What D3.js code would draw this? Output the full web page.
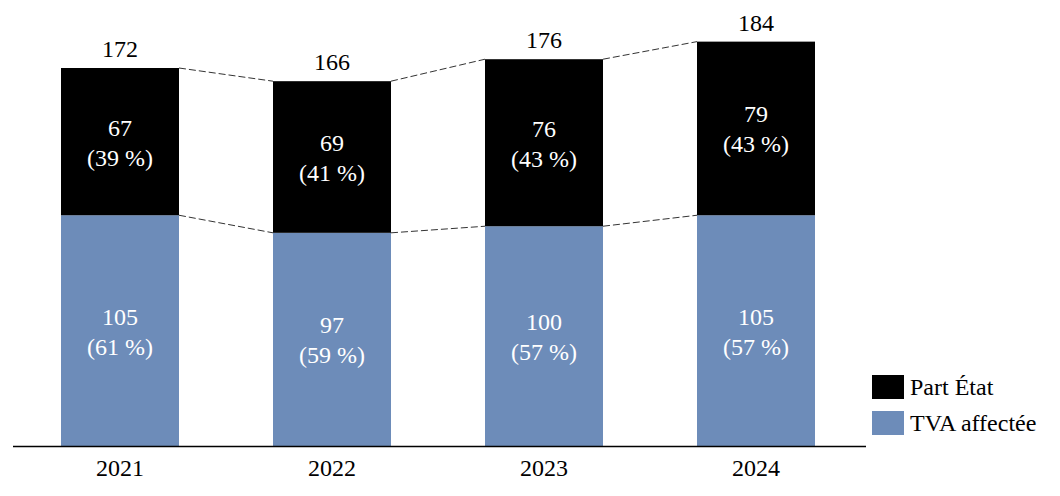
<!DOCTYPE html>
<html><head><meta charset="utf-8">
<script src="https://cdn.jsdelivr.net/npm/d3@7"></script>
<style>body{margin:0;background:#fff}svg{display:block}</style>
</head><body><svg id="c" width="1060" height="496"></svg>
<script>
const years = ["2021","2022","2023","2024"];
const tva = [105, 97, 100, 105];
const etat = [67, 69, 76, 79];
const totals = [172, 166, 176, 184];
const tvaPct = ["61 %","59 %","57 %","57 %"];
const etatPct = ["39 %","41 %","43 %","43 %"];
const seriesNames = ["Part État","TVA affectée"];
const colors = {etat:"#000000", tva:"#6d8cb9"};
const FONT = '"Liberation Serif"';

const svg = d3.select("#c");
const x = d3.scaleBand().domain(years).range([14, 862]).paddingInner(94/212).paddingOuter(47/212);
const y = d3.scaleLinear().domain([0, 172]).range([446, 68]);
const fs = 24;

function txt(sel, x0, y0, s, fill, anchor) {
  return sel.append("text").attr("x", x0).attr("y", y0).attr("text-anchor", anchor || "middle")
    .attr("font-size", fs).style("font-family", FONT).attr("fill", fill).text(s);
}

const g = svg.append("g");
for (let i = 0; i < years.length - 1; i++) {
  const x1 = x(years[i]) + x.bandwidth(), x2 = x(years[i+1]);
  [totals, tva].forEach(arr => {
    g.append("line").attr("x1", x1).attr("x2", x2).attr("y1", y(arr[i])).attr("y2", y(arr[i+1]))
      .attr("stroke", "#333").attr("stroke-width", 1).attr("stroke-dasharray", "7,3");
  });
}
years.forEach((yr, i) => {
  const bx = x(yr), bw = x.bandwidth(), cx = bx + bw/2;
  g.append("rect").attr("x", bx).attr("width", bw).attr("y", y(tva[i])).attr("height", y(0) - y(tva[i])).attr("fill", colors.tva);
  g.append("rect").attr("x", bx).attr("width", bw).attr("y", y(tva[i] + etat[i])).attr("height", y(tva[i]) - y(tva[i] + etat[i])).attr("fill", colors.etat);
  txt(g, cx, y(totals[i]) - 11, totals[i], "#000");
  const em = (y(tva[i]) + y(tva[i] + etat[i])) / 2;
  txt(g, cx, em - 6, etat[i], "#fff");
  txt(g, cx, em + 24, "(" + etatPct[i] + ")", "#fff");
  const tm = (y(0) + y(tva[i])) / 2;
  txt(g, cx, tm - 6, tva[i], "#fff");
  txt(g, cx, tm + 24, "(" + tvaPct[i] + ")", "#fff");
});
const ax = svg.append("g").attr("transform", `translate(0,${y(0)})`).call(d3.axisBottom(x).tickSize(0).tickPadding(13));
ax.select(".domain").attr("d", "M13,0.5H866").attr("stroke", "#000").attr("stroke-width", 1.5);
ax.selectAll(".tick text").attr("font-size", fs).style("font-family", FONT).attr("fill", "#000");
const leg = svg.append("g");
[["etat", seriesNames[0], 375], ["tva", seriesNames[1], 411]].forEach(([k, name, ly]) => {
  leg.append("rect").attr("x", 872).attr("y", ly).attr("width", 32).attr("height", 24).attr("fill", colors[k]);
  txt(leg, 910, ly + 20, name, "#000", "start");
});
</script></body></html>
